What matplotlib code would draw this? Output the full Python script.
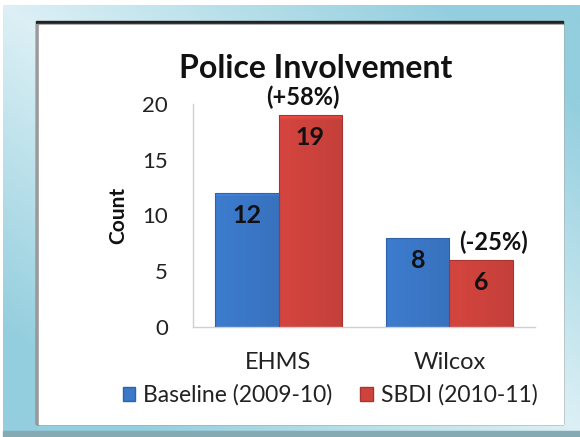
import numpy as np
import matplotlib
matplotlib.use("Agg")
import matplotlib.pyplot as plt
from matplotlib.patches import Rectangle
from matplotlib.colors import to_rgb

# data
schools = ["EHMS", "Wilcox"]
baseline = [12, 8]
sbdi = [19, 6]
changes = ["(+58%)", "(-25%)"]
series_names = ["Baseline (2009-10)", "SBDI (2010-11)"]

W, H = 580, 437
plt.rcParams["font.family"] = ["Lato", "DejaVu Sans"]

fig = plt.figure(figsize=(W / 100, H / 100), dpi=100)

# slide background: diagonal teal gradient
bg = fig.add_axes([0, 0, 1, 1])
bg.set_xlim(0, W)
bg.set_ylim(H, 0)
bg.axis("off")
u = np.linspace(0, 1, W)[None, :]
v = np.linspace(0, 1, H)[:, None]
t = np.clip(np.abs(u - v) * 1.3, 0, 1)[..., None]
light = np.array(to_rgb("#dcf0f5"))
dark = np.array(to_rgb("#93cede"))
img = light * (1 - t) + dark * t
bg.imshow(img, extent=[3, W, 431, 5], aspect="auto", zorder=0)
bg.add_patch(Rectangle((3, 431), W, 6, color="#86aab4", zorder=1))

# white panel with dark shadow on top/left
bg.add_patch(Rectangle((36, 21), 527, 403, color="#222222", zorder=2))
bg.add_patch(Rectangle((36, 23.5), 527, 400.5, color="#9a9a9a", zorder=2))
bg.add_patch(Rectangle((38.5, 24.5), 524.5, 399.5, color="white", zorder=3))

bg.text(316, 69, "Police Involvement", ha="center", va="center",
        fontsize=23, fontweight="bold", color="#111111", zorder=4)

ax = fig.add_axes([193 / W, 110 / H, 342 / W, 223 / H])
ax.set_facecolor("none")
x = np.arange(len(schools))
bw = 0.37


def shaded_bar(xc, h, base, edge):
    bars = ax.bar(xc, h, bw, color="none", edgecolor=edge, linewidth=0.8, zorder=3)
    for b in bars:
        x0, w, hh = b.get_x(), b.get_width(), b.get_height()
        c = np.array(to_rgb(base))
        gx = np.linspace(0, 1, 40)
        shade = 1.03 - 0.08 * gx
        grad = np.clip(c[None, None, :] * shade[None, :, None], 0, 1)
        grad = np.repeat(grad, 60, axis=0)
        grad[0] = np.clip(grad[0] * 1.12, 0, 1)
        im = ax.imshow(grad, extent=[x0, x0 + w, 0, hh], aspect="auto",
                       zorder=2, interpolation="bilinear")
        im.set_clip_path(b)
    return bars


shaded_bar(x - bw / 2, baseline, "#3b78c8", "#2f62a8")
shaded_bar(x + bw / 2, sbdi, "#cf433d", "#a83430")

for i in range(len(schools)):
    ax.text(x[i] - bw / 2, baseline[i] - 2.0, str(baseline[i]), ha="center",
            va="center", fontsize=18, fontweight="bold", color="#111111", zorder=5)
    ax.text(x[i] + bw / 2, sbdi[i] - 2.0, str(sbdi[i]), ha="center",
            va="center", fontsize=18, fontweight="bold", color="#111111", zorder=5)
ax.text(x[0] + bw / 2 - 0.04, sbdi[0] + 1.6, changes[0], ha="center", va="center",
        fontsize=17, fontweight="bold", color="#111111", zorder=5)
ax.text(x[1] + bw / 2 + 0.07, sbdi[1] + 1.6, changes[1], ha="center", va="center",
        fontsize=17, fontweight="bold", color="#111111", zorder=5)

ax.set_xlim(-0.5, 1.5)
ax.set_ylim(0, 20)
ax.set_yticks([0, 5, 10, 15, 20])
ax.set_xticks(x)
ax.set_xticklabels(schools)
ax.tick_params(axis="y", length=0, pad=18, labelsize=16, labelcolor="#222222")
ax.tick_params(axis="x", length=0, pad=18, labelsize=17, labelcolor="#222222")
for s in ["top", "right"]:
    ax.spines[s].set_visible(False)
for s in ["left", "bottom"]:
    ax.spines[s].set_color("#d0d0d0")
    ax.spines[s].set_linewidth(1.0)
ax.set_ylabel("Count", fontsize=15, fontweight="bold", color="#111111", labelpad=10)

handles = [Rectangle((0, 0), 1, 1, facecolor="#3b78c8", edgecolor="#2f62a8"),
           Rectangle((0, 0), 1, 1, facecolor="#cf433d", edgecolor="#a83430")]
fig.legend(handles, series_names, loc="center", bbox_to_anchor=(330 / W, 1 - 395 / H),
           ncol=2, frameon=False, fontsize=16.5, handlelength=0.55, handleheight=0.55,
           handletextpad=0.35, columnspacing=1.2, labelcolor="#222222")

fig.savefig("out.png", dpi=100)
